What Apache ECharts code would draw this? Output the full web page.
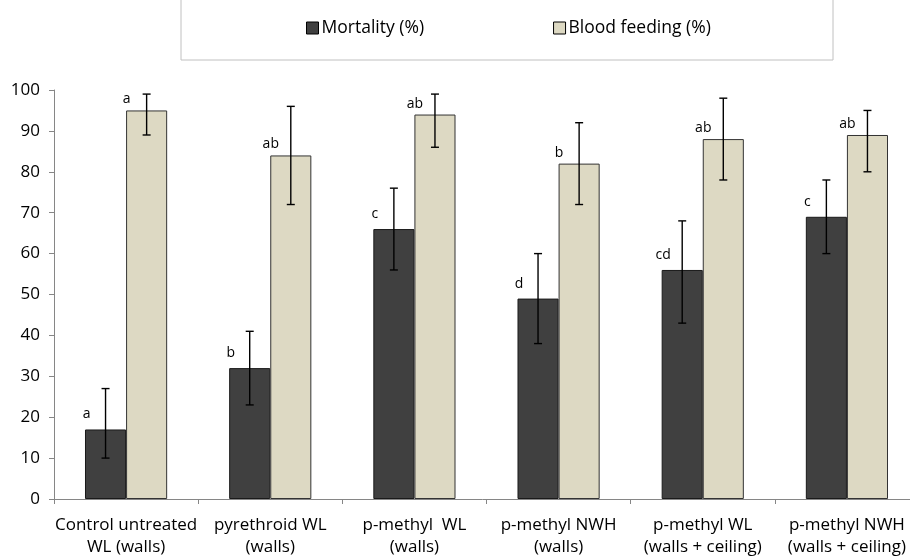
<!DOCTYPE html>
<html><head><meta charset="utf-8">
<script src="https://cdn.jsdelivr.net/npm/echarts@6/dist/echarts.min.js"></script>
<style>html,body{margin:0;padding:0;background:#fff}#c{width:910px;height:557px}</style>
</head><body><div id="c"></div>
<script>
const categories = ["Control untreated\nWL (walls)", "pyrethroid WL\n(walls)", "p-methyl  WL\n(walls)", "p-methyl NWH\n(walls)", "p-methyl WL\n(walls + ceiling)", "p-methyl NWH\n(walls + ceiling)"];
const mortality = [17, 32, 66, 49, 56, 69];
const mortalityLow = [10, 23, 56, 38, 43, 60];
const mortalityHigh = [27, 41, 76, 60, 68, 78];
const mortalityLetters = ["a", "b", "c", "d", "cd", "c"];
const bloodFeeding = [95, 84, 94, 82, 88, 89];
const bloodLow = [89, 72, 86, 72, 78, 80];
const bloodHigh = [99, 96, 99, 92, 98, 95];
const bloodLetters = ["a", "ab", "ab", "b", "ab", "ab"];
const yTicks = [0, 100, 10];

const FONT = "Open Sans";
const BAR_FRAC = 0.285;

function errSeries(low, high, side) {
  return {
    type: 'custom', z: 5, silent: true,
    data: low.map((l, i) => [i, l, high[i]]),
    renderItem: function (params, api) {
      const i = api.value(0);
      const cw = api.size([1, 0])[0];
      const lowP = api.coord([i, api.value(1)]);
      const highP = api.coord([i, api.value(2)]);
      const x = lowP[0] + side * cw * BAR_FRAC / 2;
      const cap = 4;
      const st = { stroke: '#000', lineWidth: 1.4 };
      return { type: 'group', children: [
        { type: 'line', shape: { x1: x, y1: lowP[1], x2: x, y2: highP[1] }, style: st },
        { type: 'line', shape: { x1: x - cap, y1: lowP[1], x2: x + cap, y2: lowP[1] }, style: st },
        { type: 'line', shape: { x1: x - cap, y1: highP[1], x2: x + cap, y2: highP[1] }, style: st }
      ]};
    }
  };
}

const chart = echarts.init(document.getElementById('c'));
chart.setOption({
  animation: false,
  textStyle: { fontFamily: FONT },
  graphic: [{ type: 'rect', shape: { x: 181, y: -5, width: 652, height: 65 }, style: { fill: 'none', stroke: '#c0c0c0', lineWidth: 1 } }],
  legend: {
    left: 306, top: 19, padding: 0, itemWidth: 12, itemHeight: 12, itemGap: 129,
    textStyle: { fontFamily: FONT, fontSize: 17.5, color: '#000', padding: [0, 0, 0, -2] },
    data: [
      { name: 'Mortality (%)', icon: 'rect', itemStyle: { color: '#404040', borderColor: '#000', borderWidth: 1 } },
      { name: 'Blood feeding (%)', icon: 'rect', itemStyle: { color: '#DDD9C3', borderColor: '#000', borderWidth: 1 } }
    ]
  },
  grid: { left: 54, right: -9, top: 90, bottom: 58, containLabel: false, outerBoundsMode: 'none' },
  xAxis: {
    type: 'category', data: categories,
    axisLine: { lineStyle: { color: '#868686', width: 1 } },
    axisTick: { show: true, length: 5, lineStyle: { color: '#868686' } },
    axisLabel: { color: '#000', fontSize: 17, fontFamily: FONT, lineHeight: 22, margin: 15, interval: 0 }
  },
  yAxis: {
    type: 'value', min: yTicks[0], max: yTicks[1], interval: yTicks[2],
    splitLine: { show: false },
    axisLine: { show: true, lineStyle: { color: '#868686', width: 1 } },
    axisTick: { show: true, length: 5, lineStyle: { color: '#868686' } },
    axisLabel: { color: '#000', fontSize: 17, fontFamily: FONT, margin: 14 }
  },
  series: [
    {
      name: 'Mortality (%)', type: 'bar', data: mortality, barWidth: (BAR_FRAC * 100) + '%', barGap: '0%',
      itemStyle: { color: '#404040', borderColor: '#1a1a1a', borderWidth: 1 },
      label: { show: true, position: 'top', distance: 8, offset: [-19, 0], color: '#000', fontSize: 14, fontFamily: FONT,
        formatter: p => mortalityLetters[p.dataIndex] }
    },
    {
      name: 'Blood feeding (%)', type: 'bar', data: bloodFeeding, barWidth: (BAR_FRAC * 100) + '%', barGap: '0%',
      itemStyle: { color: '#DDD9C3', borderColor: '#333', borderWidth: 1 },
      label: { show: true, position: 'top', distance: 4, offset: [-20, 0], color: '#000', fontSize: 14, fontFamily: FONT,
        formatter: p => bloodLetters[p.dataIndex] }
    },
    errSeries(mortalityLow, mortalityHigh, -1),
    errSeries(bloodLow, bloodHigh, 1)
  ]
});
</script></body></html>
